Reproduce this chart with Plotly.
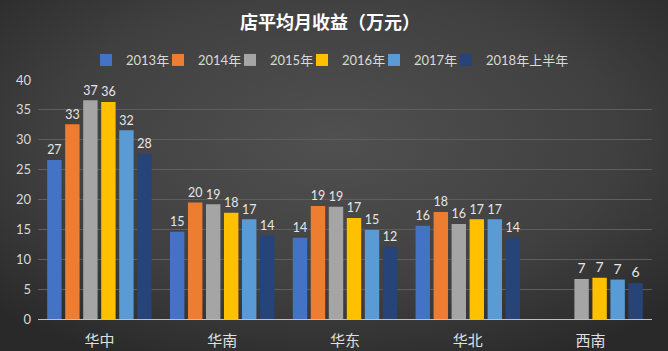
import plotly.graph_objects as go
import urllib.parse

categories = ["华中", "华南", "华东", "华北", "西南"]
series_names = ["2013年", "2014年", "2015年", "2016年", "2017年", "2018年上半年"]
v2013 = [26.6, 14.6, 13.6, 15.6, None]
v2014 = [32.6, 19.5, 18.9, 17.9, None]
v2015 = [36.6, 19.2, 18.8, 15.9, 6.7]
v2016 = [36.3, 17.8, 16.9, 16.7, 6.9]
v2017 = [31.6, 16.7, 14.9, 16.7, 6.6]
v2018h1 = [27.6, 14.0, 12.1, 13.6, 6.0]
series_values = [v2013, v2014, v2015, v2016, v2017, v2018h1]
colors = ["#4472C4", "#ED7D31", "#A5A5A5", "#FFC000", "#5B9BD5", "#264478"]
y_ticks = [0, 5, 10, 15, 20, 25, 30, 35, 40]

W, H = 668, 351
L, R, T, B = 38, 16, 80, 32
pw, ph = W - L - R, H - T - B

font_family = "Lato, 'Noto Sans CJK SC', sans-serif"

# legend swatch centres (px from left) for each series
legend_px = [110, 182, 254, 326, 398, 470]


def label(v):
    return "" if v is None else str(int(v + 0.5))


fig = go.Figure()
legend_ids = []
for i, (name, vals, c) in enumerate(zip(series_names, series_values, colors)):
    lid = "legend" if i == 0 else f"legend{i + 1}"
    legend_ids.append(lid)
    fig.add_trace(go.Bar(
        x=categories, y=vals, name=name, legend=lid,
        marker=dict(color=c, line=dict(width=0)),
        text=[label(v) for v in vals],
        textposition="outside", cliponaxis=False,
        textfont=dict(color="#e6e6e6", size=14, family=font_family),
    ))

svg = (
    f'<svg xmlns="http://www.w3.org/2000/svg" width="{W}" height="{H}">'
    '<defs><radialGradient id="g" cx="50%" cy="40%" r="70%">'
    '<stop offset="0%" stop-color="#505050"/>'
    '<stop offset="60%" stop-color="#404040"/>'
    '<stop offset="100%" stop-color="#292929"/>'
    '</radialGradient></defs>'
    f'<rect width="{W}" height="{H}" fill="url(#g)"/></svg>'
)
svg_uri = "data:image/svg+xml;charset=utf-8," + urllib.parse.quote(svg)

legend_layout = {}
for lid, px in zip(legend_ids, legend_px):
    legend_layout[lid] = dict(
        orientation="h", xanchor="left", x=(px - 24 - L) / pw,
        y=1 + 20 / ph, yanchor="middle", itemwidth=30,
        font=dict(size=13, color="#d9d9d9", family=font_family),
        bgcolor="rgba(0,0,0,0)")

fig.update_layout(
    width=W, height=H,
    margin=dict(l=L, r=R, t=T, b=B),
    paper_bgcolor="#3c3c3c",
    plot_bgcolor="rgba(0,0,0,0)",
    images=[dict(source=svg_uri, xref="paper", yref="paper",
                 x=-L / pw, y=1 + T / ph, sizex=W / pw, sizey=H / ph,
                 xanchor="left", yanchor="top", sizing="stretch",
                 layer="below")],
    title=dict(text="<b>店平均月收益（万元）</b>", x=0.494, xanchor="center",
               y=1 - 23 / H, yanchor="middle",
               font=dict(size=18, color="#ffffff",
                         family="'Noto Sans CJK SC', sans-serif")),
    barmode="group",
    bargap=0.12,
    bargroupgap=0.2,
    showlegend=True,
    xaxis=dict(showgrid=False, showline=True, linecolor="#bfbfbf", linewidth=1,
               ticks="", ticklabelstandoff=8, automargin=False,
               tickfont=dict(size=15, color="#e0e0e0",
                             family="'Noto Sans CJK SC', sans-serif")),
    yaxis=dict(range=[0, 40], tickvals=y_ticks, showgrid=True,
               gridcolor="#5e5e5e", gridwidth=1, zeroline=False,
               automargin=False,
               tickfont=dict(size=13, color="#d9d9d9", family=font_family),
               ticklabelstandoff=6),
    **legend_layout,
)

fig.write_html("out.html")
